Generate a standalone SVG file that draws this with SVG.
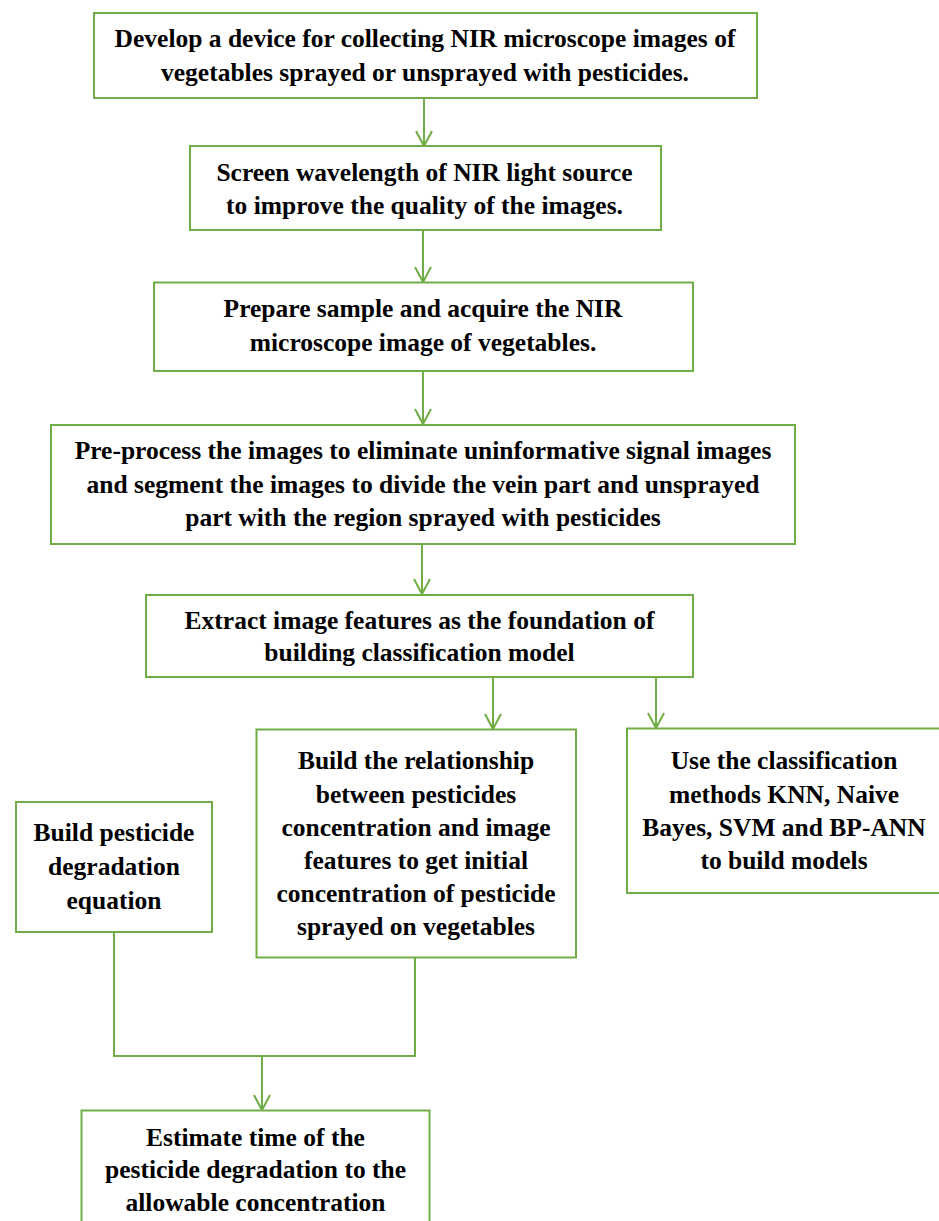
<svg xmlns="http://www.w3.org/2000/svg" width="939" height="1221" viewBox="0 0 939 1221">
<defs>
<style>
.box{fill:#ffffff;stroke:#70AD47;stroke-width:2}
.t{font-family:"Liberation Serif","Times New Roman",serif;font-weight:bold;font-size:25.5px;fill:#000000;text-anchor:middle}
.ln{fill:none;stroke:#70AD47;stroke-width:2}
.ah{fill:none;stroke:#70AD47;stroke-width:2}
</style>
</defs>
<rect width="939" height="1221" fill="#ffffff"/>
<g id="connectors">
<line class="ln" x1="424" y1="98" x2="424" y2="145"/>
<line class="ln" x1="423" y1="230" x2="423" y2="282"/>
<line class="ln" x1="423" y1="371" x2="423" y2="424"/>
<line class="ln" x1="422" y1="544" x2="422" y2="594"/>
<line class="ln" x1="493" y1="677" x2="493" y2="729"/>
<line class="ln" x1="656" y1="677" x2="656" y2="728"/>
<polyline class="ln" points="114,932 114,1056 415,1056 415,957"/>
<line class="ln" x1="262" y1="1056" x2="262" y2="1110"/>
<polyline class="ah" points="416,131 424,146 432,131"/>
<polyline class="ah" points="415,267 423,282 431,267"/>
<polyline class="ah" points="415,409 423,424 431,409"/>
<polyline class="ah" points="414,579 422,594 430,579"/>
<polyline class="ah" points="485,714 493,729 501,714"/>
<polyline class="ah" points="648,713 656,728 664,713"/>
<polyline class="ah" points="254,1095 262,1110 270,1095"/>
</g>
<g id="n1">
<rect class="box" x="94" y="13" width="663" height="85"/>
<text class="t" x="425" y="47">Develop a device for collecting NIR microscope images of</text>
<text class="t" x="425" y="81">vegetables sprayed or unsprayed with pesticides.</text>
</g>
<g id="n2">
<rect class="box" x="190" y="146" width="471" height="84"/>
<text class="t" x="424.5" y="181">Screen wavelength of NIR light source</text>
<text class="t" x="424.5" y="214">to improve the quality of the images.</text>
</g>
<g id="n3">
<rect class="box" x="154" y="282.5" width="539" height="88.5"/>
<text class="t" x="423" y="317">Prepare sample and acquire the NIR</text>
<text class="t" x="423" y="351">microscope image of vegetables.</text>
</g>
<g id="n4">
<rect class="box" x="51" y="425" width="744" height="119"/>
<text class="t" x="423" y="459">Pre-process the images to eliminate uninformative signal images</text>
<text class="t" x="423" y="492.5">and segment the images to divide the vein part and unsprayed</text>
<text class="t" x="423" y="526">part with the region sprayed with pesticides</text>
</g>
<g id="n5">
<rect class="box" x="146" y="595" width="547" height="82"/>
<text class="t" x="419.5" y="629">Extract image features as the foundation of</text>
<text class="t" x="419.5" y="661">building classification model</text>
</g>
<g id="n6">
<rect class="box" x="256.5" y="729.5" width="319.5" height="228"/>
<text class="t" x="416" y="769">Build the relationship</text>
<text class="t" x="416" y="802.5">between pesticides</text>
<text class="t" x="416" y="835.5">concentration and image</text>
<text class="t" x="416" y="868.5">features to get initial</text>
<text class="t" x="416" y="902">concentration of pesticide</text>
<text class="t" x="416" y="935">sprayed on vegetables</text>
</g>
<g id="n7">
<rect class="box" x="627" y="728.5" width="320" height="164.5"/>
<text class="t" x="784" y="769">Use the classification</text>
<text class="t" x="784" y="802.5">methods KNN, Naive</text>
<text class="t" x="784" y="835.5">Bayes, SVM and BP-ANN</text>
<text class="t" x="784" y="868.5">to build models</text>
</g>
<g id="n8">
<rect class="box" x="16" y="802" width="196" height="130"/>
<text class="t" x="114" y="841">Build pesticide</text>
<text class="t" x="114" y="875">degradation</text>
<text class="t" x="114" y="908.5">equation</text>
</g>
<g id="n9">
<rect class="box" x="81.5" y="1110.5" width="348" height="130"/>
<text class="t" x="255.5" y="1146">Estimate time of the</text>
<text class="t" x="255.5" y="1178">pesticide degradation to the</text>
<text class="t" x="255.5" y="1211">allowable concentration</text>
</g>
</svg>
